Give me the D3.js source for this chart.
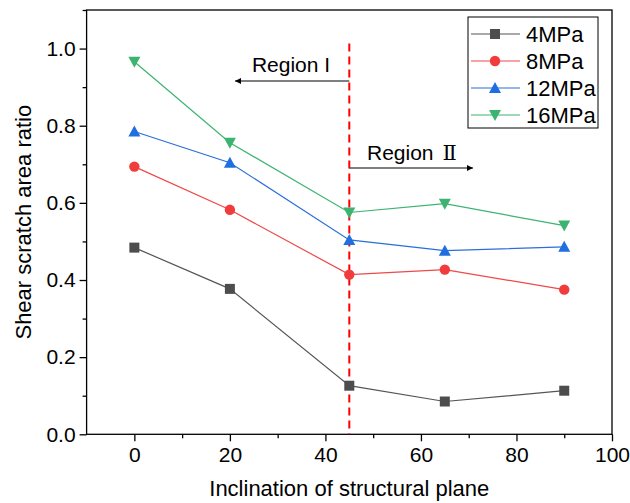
<!DOCTYPE html>
<html><head><meta charset="utf-8">
<script src="https://cdn.jsdelivr.net/npm/d3@7"></script>
<style>body{margin:0;background:#fff}svg{display:block}text{font-family:Arial,"Liberation Sans",sans-serif}</style>
</head><body>
<svg id="c" width="630" height="503"></svg>
<script>
const inclination = [0, 20, 45, 65, 90];
const seriesNames = ["4MPa", "8MPa", "12MPa", "16MPa"];
const s4 = [0.484, 0.377, 0.126, 0.085, 0.113];
const s8 = [0.694, 0.582, 0.414, 0.427, 0.375];
const s12 = [0.785, 0.704, 0.504, 0.476, 0.486];
const s16 = [0.966, 0.756, 0.575, 0.598, 0.541];
const xTicks = [0, 20, 40, 60, 80, 100];
const yTicks = [0.0, 0.2, 0.4, 0.6, 0.8, 1.0];
const boundary = 45;

const colors = ["#4d4d4d", "#f03c3c", "#1f6fe0", "#3cb371"];
const lineColors = ["#555555", "#f04848", "#2a6fdb", "#3cb371"];
const symbols = ["square", "circle", "triangle", "triangleDown"];
const allSeries = [s4, s8, s12, s16];

const svg = d3.select("#c");
const L = 86.6, R = 612, T = 10, B = 434.3;
const x = d3.scaleLinear().domain([-10, 100]).range([L, R]);
const y = d3.scaleLinear().domain([0, 1.1]).range([B, T]);

// frame
svg.append("rect").attr("x", L).attr("y", T).attr("width", R - L).attr("height", B - T)
  .attr("fill", "none").attr("stroke", "#000").attr("stroke-width", 1.3);

// axes
const xAxis = d3.axisBottom(x).tickValues(d3.range(-10, 101, 10)).tickSize(7)
  .tickFormat(d => xTicks.includes(d) ? d : "");
const gx = svg.append("g").attr("transform", `translate(0,${B})`).call(xAxis);
gx.selectAll(".tick line").attr("stroke-width", 1.3)
  .attr("y2", d => xTicks.includes(d) ? 7 : 4);
gx.selectAll(".tick").filter(d => d === -10).remove();
gx.select(".domain").remove();
gx.selectAll("text").attr("font-size", 21).attr("fill", "#000").attr("dy", "0.71em").attr("y", 13);

const yAxis = d3.axisLeft(y).tickValues(d3.range(0, 1.101, 0.1)).tickSize(7)
  .tickFormat(d => yTicks.some(t => Math.abs(t - d) < 1e-6) ? d3.format(".1f")(d) : "");
const gy = svg.append("g").attr("transform", `translate(${L},0)`).call(yAxis);
gy.selectAll(".tick line").attr("stroke-width", 1.3)
  .attr("x2", d => yTicks.some(t => Math.abs(t - d) < 1e-6) ? -7 : -4);
gy.select(".domain").remove();
gy.selectAll("text").attr("font-size", 21).attr("fill", "#000").attr("x", -11);

// axis titles
svg.append("text").attr("x", (L + R) / 2).attr("y", 496).attr("text-anchor", "middle")
  .attr("font-size", 22).text("Inclination of structural plane");
svg.append("text").attr("transform", `translate(31,${(T + B) / 2}) rotate(-90)`)
  .attr("text-anchor", "middle").attr("font-size", 22).text("Shear scratch area ratio");

// boundary line
svg.append("line").attr("x1", x(boundary)).attr("x2", x(boundary))
  .attr("y1", y(1.013)).attr("y2", B).attr("stroke", "#ff0000").attr("stroke-width", 2)
  .attr("stroke-dasharray", "8,5");

// marker path
function markerPath(kind) {
  if (kind === "square") return "M-5,-5H5V5H-5Z";
  if (kind === "circle") return d3.symbol().type(d3.symbolCircle).size(85)();
  if (kind === "triangle") return "M0,-6L6,5H-6Z";
  return "M0,6L6,-5H-6Z";
}

// series
const line = d3.line().x((d, i) => x(inclination[i])).y(d => y(d));
allSeries.forEach((vals, k) => {
  svg.append("path").datum(vals).attr("d", line).attr("fill", "none")
    .attr("stroke", lineColors[k]).attr("stroke-width", 1.2);
  svg.append("g").selectAll("path").data(vals).join("path")
    .attr("transform", (d, i) => `translate(${x(inclination[i])},${y(d)})`)
    .attr("d", markerPath(symbols[k])).attr("fill", colors[k]);
});

// arrows
const defs = svg.append("defs");
defs.append("marker").attr("id", "ah").attr("viewBox", "0 0 10 10").attr("refX", 10).attr("refY", 5)
  .attr("markerWidth", 11).attr("markerHeight", 6).attr("markerUnits", "userSpaceOnUse").attr("orient", "auto")
  .append("path").attr("d", "M0,0L10,5L0,10Z").attr("fill", "#000");

const xb = x(boundary);
svg.append("line").attr("x1", xb).attr("x2", 235).attr("y1", 81).attr("y2", 81)
  .attr("stroke", "#555").attr("stroke-width", 1.5).attr("marker-end", "url(#ah)");
svg.append("text").attr("x", 291).attr("y", 72).attr("text-anchor", "middle").attr("font-size", 21).text("Region I");
svg.append("line").attr("x1", xb).attr("x2", 473).attr("y1", 168).attr("y2", 168)
  .attr("stroke", "#555").attr("stroke-width", 1.5).attr("marker-end", "url(#ah)");
const r2 = svg.append("text").attr("x", 367).attr("y", 160).attr("font-size", 21);
r2.append("tspan").text("Region ");
r2.append("tspan").attr("dx", 3).style("font-family", "'DejaVu Serif','Liberation Serif',serif").text("Ⅱ");

// legend
const lg = svg.append("g");
lg.append("rect").attr("x", 468).attr("y", 17).attr("width", 130).attr("height", 111)
  .attr("fill", "#fff").attr("stroke", "#000").attr("stroke-width", 1);
const ly = [34, 61, 88, 115];
seriesNames.forEach((n, k) => {
  lg.append("line").attr("x1", 471).attr("x2", 520).attr("y1", ly[k]).attr("y2", ly[k])
    .attr("stroke", lineColors[k]).attr("stroke-width", 1.2);
  lg.append("path").attr("transform", `translate(495,${ly[k]})`).attr("d", markerPath(symbols[k])).attr("fill", colors[k]);
  lg.append("text").attr("x", 526).attr("y", ly[k]).attr("dy", "0.36em").attr("font-size", 22).text(n);
});
</script>
</body></html>
